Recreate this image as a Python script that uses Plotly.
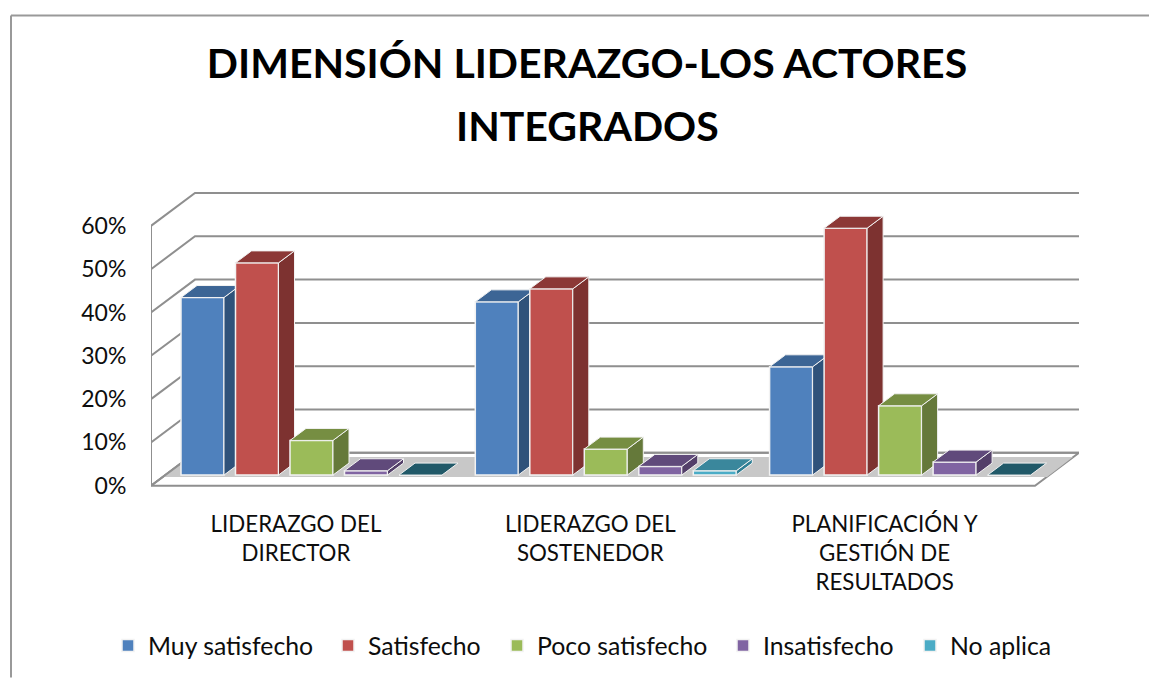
import plotly.graph_objects as go

# ---- data ----
TITLE_LINE_1 = "DIMENSIÓN LIDERAZGO-LOS ACTORES"
TITLE_LINE_2 = "INTEGRADOS"
categories = ["LIDERAZGO DEL<br>DIRECTOR", "LIDERAZGO DEL<br>SOSTENEDOR", "PLANIFICACIÓN Y<br>GESTIÓN DE<br>RESULTADOS"]
series_names = ["Muy satisfecho", "Satisfecho", "Poco satisfecho", "Insatisfecho", "No aplica"]
muy_satisfecho = [41, 40, 25]
satisfecho = [49, 43, 57]
poco_satisfecho = [8, 6, 16]
insatisfecho = [1, 2, 3]
no_aplica = [0, 1, 0]
y_ticks = [0, 10, 20, 30, 40, 50, 60]
y_tick_labels = ["0%", "10%", "20%", "30%", "40%", "50%", "60%"]

all_series = [muy_satisfecho, satisfecho, poco_satisfecho, insatisfecho, no_aplica]
front_colors = ["#4F81BD", "#C0504D", "#9BBB59", "#8064A2", "#4BACC6"]
side_colors = ["#2F527A", "#7D3230", "#65793A", "#533F69", "#2F7F95"]
top_colors = ["#3C6595", "#8C3836", "#768E42", "#604A7B", "#3A879C"]
empty_top_color = "#215968"

# ---- layout geometry (pixels of the page) ----
W, H = 1149, 679
L, R, T, B = 151, 1079, 188, 492
ZERO_PX, PX_PER_PCT = 486.7, 4.345
GROUP_PX, CAT0_PX = 294.3, 296
WALL_DX, WALL_DY = 44, 33
BAR_DX, BAR_DY = 16, 12
BAR_BASE_PX, BAR_CENTER_PX = 476, 311.5
BAR_PITCH_PX, BAR_W_PX = 54.5, 43
LEGEND_TEXT_PX = [149, 369, 538, 764, 951]
LEGEND_TEXT_INSET = 41

to_u = lambda px: px / GROUP_PX
to_v = lambda px: px / PX_PER_PCT
px_x = lambda px: (px - L) / (R - L)   # page pixel -> paper fraction
px_y = lambda py: (B - py) / (B - T)
x_range = [to_u(L - CAT0_PX), to_u(R - CAT0_PX)]
y_range = [to_v(ZERO_PX - B), to_v(ZERO_PX - T)]
x_shift = to_u(BAR_CENTER_PX - CAT0_PX)
y_shift = to_v(ZERO_PX - BAR_BASE_PX)

GRID = "#8F8F8F"
wall_u, wall_v = to_u(WALL_DX), to_v(WALL_DY)
x_front, x_right = x_range[0], to_u(1035 - CAT0_PX)

fig = go.Figure()


def poly(xs, ys, fill, line="rgba(0,0,0,0)", width=0, **axes):
    fig.add_trace(go.Scatter(x=xs, y=ys, mode="lines", fill="toself", fillcolor=fill,
                             line=dict(color=line, width=width), hoverinfo="skip",
                             showlegend=False, **axes))


# floor
poly([x_front, x_right, x_right + wall_u, x_front + wall_u, x_front],
     [0, 0, wall_v, wall_v, 0], "#FFFFFF", GRID, 2)
band_bottom, band_top = to_v(ZERO_PX - 478), to_v(ZERO_PX - 458)
poly([to_u(163 - CAT0_PX), to_u(1047 - CAT0_PX), to_u(1073 - CAT0_PX), to_u(189 - CAT0_PX), to_u(163 - CAT0_PX)],
     [band_bottom, band_bottom, band_top, band_top, band_bottom], "#C8C8C8")

# walls: one line per tick, side wall then back wall
for t in y_ticks:
    fig.add_trace(go.Scatter(x=[x_front, x_front + wall_u, x_range[1]], y=[t, t + wall_v, t + wall_v],
                             mode="lines", line=dict(color=GRID, width=2), hoverinfo="skip",
                             showlegend=False, cliponaxis=False))
# front edge of the side wall
fig.add_trace(go.Scatter(x=[x_front, x_front], y=[0, y_ticks[-1]], mode="lines",
                         line=dict(color=GRID, width=2), hoverinfo="skip", showlegend=False, cliponaxis=False))

bar_u, d_u, d_v = to_u(BAR_W_PX), to_u(BAR_DX), to_v(BAR_DY)
for j, (name, vals) in enumerate(zip(series_names, all_series)):
    n = str(j + 2)
    axes = dict(xaxis="x" + n, yaxis="y" + n)
    centers = [i + (j - 2) * to_u(BAR_PITCH_PX) for i in range(len(vals))]
    legend_id = "legend" if j == 0 else "legend" + str(j + 1)
    fig.add_trace(go.Bar(x=centers, y=vals, width=bar_u, name=name, legend=legend_id,
                         marker=dict(color=front_colors[j], line=dict(color="#F2F2F2", width=1.5)),
                         hovertemplate="%{y}%<extra>" + name + "</extra>", **axes))
    sx, sy, tx, ty, zx, zy = [], [], [], [], [], []
    for c, v in zip(centers, vals):
        a, b = c - bar_u / 2, c + bar_u / 2
        top = ([a, b, b + d_u, a + d_u, a, None], [v, v, v + d_v, v + d_v, v, None])
        if v > 0:
            sx += [b, b + d_u, b + d_u, b, b, None]
            sy += [0, d_v, v + d_v, v, 0, None]
            tx += top[0]
            ty += top[1]
        else:
            zx += top[0]
            zy += top[1]
    poly(sx, sy, side_colors[j], "#F2F2F2", 1, **axes)
    poly(tx, ty, top_colors[j], "#F2F2F2", 1, **axes)
    if zx:
        poly(zx, zy, empty_top_color, "#F2F2F2", 1, **axes)

layout_axes = {}
for j in range(len(all_series)):
    n = str(j + 2)
    layout_axes["xaxis" + n] = dict(overlaying="x", range=[x_range[0] - x_shift, x_range[1] - x_shift],
                                    visible=False, fixedrange=True)
    layout_axes["yaxis" + n] = dict(overlaying="y", range=[y_range[0] - y_shift, y_range[1] - y_shift],
                                    visible=False, fixedrange=True)

legends = {}
for j, text_px in enumerate(LEGEND_TEXT_PX):
    key = "legend" if j == 0 else "legend" + str(j + 1)
    legends[key] = dict(x=px_x(text_px - LEGEND_TEXT_INSET), xanchor="left", y=px_y(646), yanchor="middle",
                        font=dict(size=24.8), bgcolor="rgba(0,0,0,0)")

FONT = "Lato, Carlito, Calibri, sans-serif"
fig.update_layout(
    width=W, height=H, autosize=False,
    margin=dict(l=L, r=W - R, t=T, b=H - B, pad=0),
    paper_bgcolor="#FFFFFF", plot_bgcolor="rgba(0,0,0,0)",
    barmode="overlay",
    showlegend=True,
    font=dict(family=FONT, color="#0D0D0D", size=22),
    title=dict(text="<b>" + TITLE_LINE_1 + "</b>", x=587 / W, xanchor="center", y=1 - 64 / H, yanchor="middle",
               font=dict(family=FONT, size=41, color="#000000")),
    annotations=[dict(text="<b>" + TITLE_LINE_2 + "</b>", xref="paper", yref="paper", x=px_x(587), y=px_y(125),
                      xanchor="center", yanchor="middle", showarrow=False,
                      font=dict(family=FONT, size=41, color="#000000"))],
    xaxis=dict(range=x_range, tickmode="array", tickvals=list(range(len(categories))), ticktext=categories,
               showgrid=False, zeroline=False, showline=False, ticks="outside", ticklen=13,
               tickcolor="rgba(0,0,0,0)", fixedrange=True, tickfont=dict(size=22.3)),
    yaxis=dict(range=y_range, tickmode="array", tickvals=y_ticks, ticktext=y_tick_labels,
               showgrid=False, zeroline=False, showline=False, ticks="outside", ticklen=19,
               tickcolor="rgba(0,0,0,0)", fixedrange=True, tickfont=dict(size=23)),
    shapes=[
        dict(type="line", xref="paper", yref="paper", x0=px_x(11), x1=px_x(W), y0=px_y(15), y1=px_y(15),
             line=dict(color="#999999", width=2), layer="below"),
        dict(type="line", xref="paper", yref="paper", x0=px_x(11), x1=px_x(11), y0=px_y(H), y1=px_y(15),
             line=dict(color="#999999", width=2), layer="below"),
    ],
    **legends,
    **layout_axes,
)
fig.write_html("out.html", config=dict(displayModeBar=False),
               post_script="document.body.style.margin='0';document.documentElement.style.overflow='hidden';")
